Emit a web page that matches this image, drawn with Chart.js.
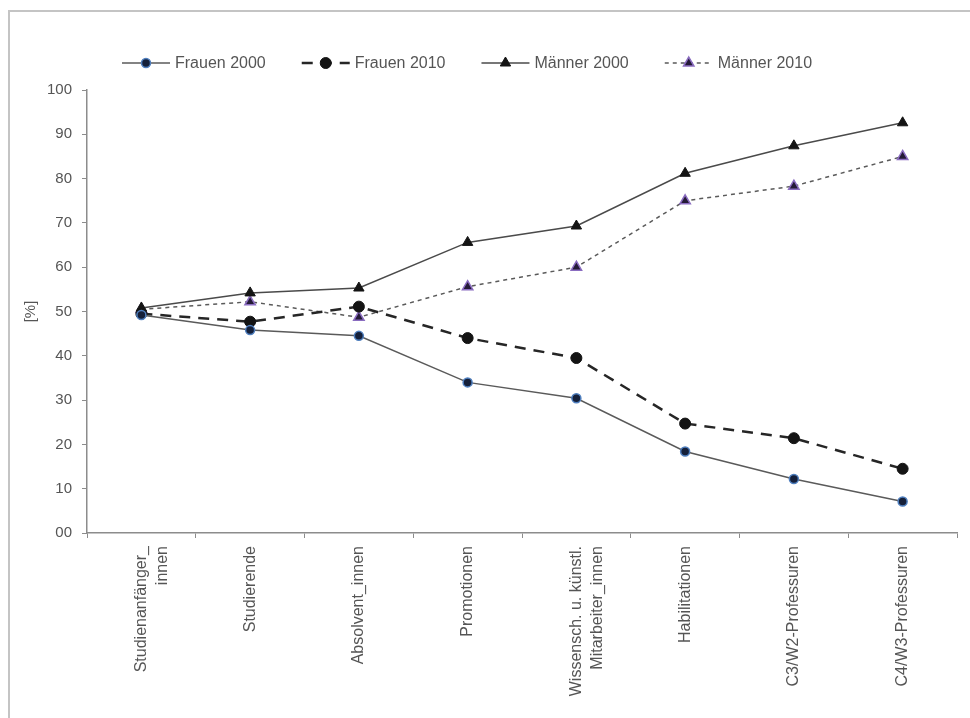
<!DOCTYPE html>
<html>
<head>
<meta charset="utf-8">
<script src="https://cdn.jsdelivr.net/npm/chart.js@4.4.1/dist/chart.umd.min.js"></script>
<style>
  html, body { margin: 0; padding: 0; background: #fff; }
  #wrap { position: relative; width: 970px; height: 718px; }
  #frame { position: absolute; left: 8px; top: 10px; right: 0; bottom: 0;
           border-left: 2px solid #c4c4c4; border-top: 2px solid #c4c4c4; }
  canvas { position: absolute; left: 0; top: 0; }
</style>
</head>
<body>
<div id="wrap">
  <div id="frame"></div>
  <canvas id="genderChart" width="970" height="718"></canvas>
</div>
<script>
// Categories (x axis)
const categories = [
    ['Studienanfänger_', 'innen'],
    'Studierende',
    'Absolvent_innen',
    'Promotionen',
    ['Wissensch. u. künstl.', 'Mitarbeiter_innen'],
    'Habilitationen',
    'C3/W2-Professuren',
    'C4/W3-Professuren'
];

// Series values [%]
const frauen2000 = [49.2, 45.8, 44.5, 34.0, 30.4, 18.4, 12.2, 7.1];
const frauen2010 = [49.5, 47.7, 51.1, 44.0, 39.5, 24.7, 21.4, 14.5];
const maenner2000 = [50.8, 54.2, 55.3, 65.6, 69.3, 81.2, 87.4, 92.6];
const maenner2010 = [50.5, 52.2, 48.7, 55.6, 60.0, 75.0, 78.3, 85.0];

// Y tick labels
const yTickLabels = ['00', '10', '20', '30', '40', '50', '60', '70', '80', '90', '100'];

const FONT = "'Liberation Sans', Arial, sans-serif";
const TEXT = '#555555';
const AXIS = '#8c8c8c';

// Legend drawn as line + marker + label, like the spreadsheet original
const lineLegend = {
    id: 'lineLegend',
    afterDraw(chart) {
        const ctx = chart.ctx;
        let x = 122;
        const y = 63;
        ctx.save();
        ctx.font = '16px ' + FONT;
        ctx.textBaseline = 'middle';
        chart.data.datasets.forEach(ds => {
            ctx.strokeStyle = ds.borderColor;
            ctx.lineWidth = ds.borderWidth;
            ctx.setLineDash(ds.borderDash || []);
            ctx.beginPath();
            ctx.moveTo(x, y);
            ctx.lineTo(x + 48, y);
            ctx.stroke();
            ctx.setLineDash([]);
            ctx.fillStyle = ds.pointBackgroundColor;
            ctx.strokeStyle = ds.pointBorderColor;
            ctx.lineWidth = ds.pointBorderWidth;
            Chart.helpers.drawPoint(ctx, {
                pointStyle: ds.pointStyle,
                radius: ds.pointRadius,
                borderWidth: ds.pointBorderWidth,
                rotation: 0
            }, x + 24, y);
            ctx.fillStyle = TEXT;
            ctx.fillText(ds.label, x + 53, y + 1);
            x += 53 + ctx.measureText(ds.label).width + 36;
        });
        ctx.restore();
    }
};

const ctx = document.getElementById('genderChart');
new Chart(ctx, {
    type: 'line',
    data: {
        labels: categories,
        datasets: [
            {
                label: 'Frauen 2000',
                data: frauen2000,
                borderColor: '#5a5a5a',
                borderWidth: 1.5,
                pointStyle: 'circle',
                pointRadius: 4.5,
                pointBackgroundColor: '#15203a',
                pointBorderColor: '#4f7fbf',
                pointBorderWidth: 1.5,
                tension: 0
            },
            {
                label: 'Frauen 2010',
                data: frauen2010,
                borderColor: '#262626',
                borderWidth: 2.5,
                borderDash: [11, 8],
                pointStyle: 'circle',
                pointRadius: 5.5,
                pointBackgroundColor: '#141414',
                pointBorderColor: '#141414',
                pointBorderWidth: 1,
                tension: 0
            },
            {
                label: 'Männer 2000',
                data: maenner2000,
                borderColor: '#4a4a4a',
                borderWidth: 1.5,
                pointStyle: 'triangle',
                pointRadius: 6,
                pointBackgroundColor: '#141414',
                pointBorderColor: '#141414',
                pointBorderWidth: 1,
                tension: 0
            },
            {
                label: 'Männer 2010',
                data: maenner2010,
                borderColor: '#5a5a5a',
                borderWidth: 1.5,
                borderDash: [4, 4],
                pointStyle: 'triangle',
                pointRadius: 6,
                pointBackgroundColor: '#241a36',
                pointBorderColor: '#8a6cc0',
                pointBorderWidth: 1.5,
                tension: 0
            }
        ]
    },
    options: {
        responsive: false,
        animation: false,
        layout: { padding: { top: 90, right: 13, bottom: 0, left: 0 } },
        plugins: {
            legend: { display: false },
            tooltip: { enabled: false }
        },
        scales: {
            x: {
                offset: true,
                grid: {
                    offset: true,
                    drawOnChartArea: false,
                    drawTicks: true,
                    tickLength: 5,
                    color: AXIS
                },
                border: { color: AXIS, width: 1.5 },
                ticks: {
                    color: TEXT,
                    font: { family: FONT, size: 16, lineHeight: 1.3 },
                    maxRotation: 90,
                    minRotation: 90,
                    padding: 8,
                    autoSkip: false
                },
                afterFit(scale) { scale.height = 718 - 533; }
            },
            y: {
                min: 0,
                max: 100,
                grid: {
                    drawOnChartArea: false,
                    drawTicks: true,
                    tickLength: 5,
                    color: AXIS
                },
                border: { color: AXIS, width: 1.5 },
                ticks: {
                    stepSize: 10,
                    color: TEXT,
                    font: { family: FONT, size: 15 },
                    padding: 10,
                    callback: (v) => yTickLabels[Math.round(v / 10)]
                },
                title: {
                    display: true,
                    text: '[%]',
                    color: TEXT,
                    font: { family: FONT, size: 15 },
                    padding: { top: 22, bottom: 0 }
                },
                afterFit(scale) { scale.width = 87; }
            }
        }
    },
    plugins: [lineLegend]
});
</script>
</body>
</html>
